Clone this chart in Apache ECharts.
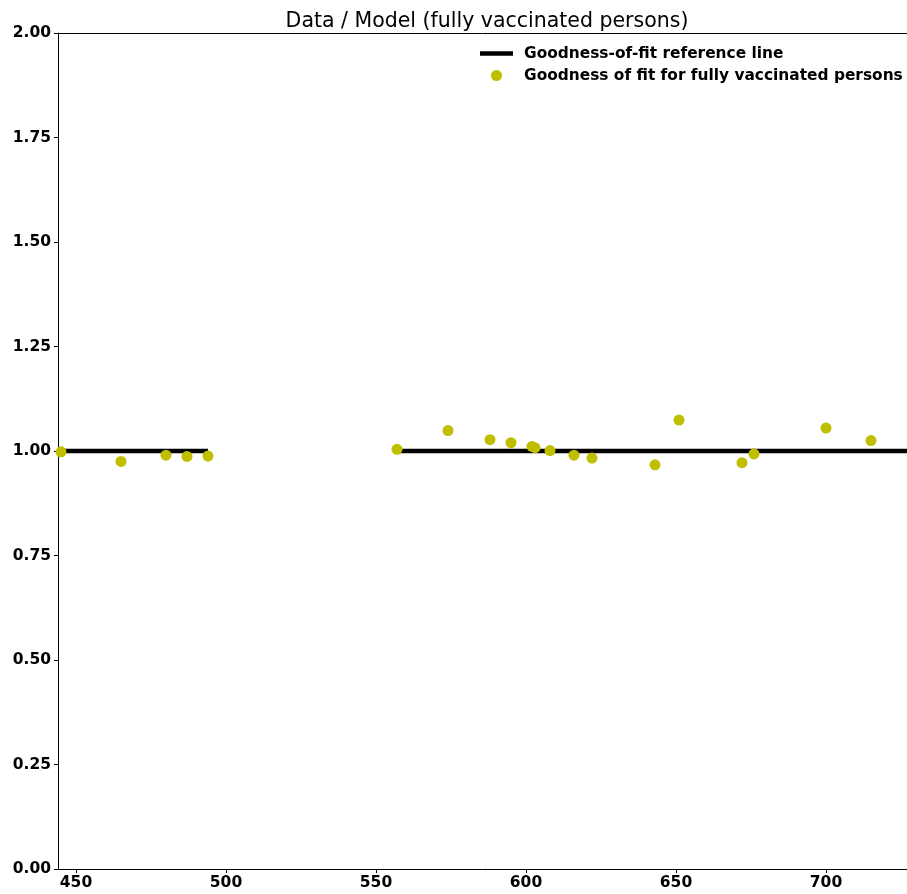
<!DOCTYPE html>
<html>
<head>
<meta charset="utf-8">
<script src="https://cdn.jsdelivr.net/npm/echarts@6/dist/echarts.min.js"></script>
<style>
  html, body { margin: 0; padding: 0; background: #fff; }
  #chart { width: 907px; height: 894px; }
</style>
</head>
<body>
<div id="chart"></div>
<script>
// Day index of each observation and its data/model ratio
const days = [445, 465, 480, 487, 494, 557, 574, 588, 595, 602, 603, 608, 616, 622, 643, 651, 672, 676, 700, 715];
const ratios = [0.998, 0.975, 0.990, 0.987, 0.988, 1.004, 1.049, 1.027, 1.020, 1.011, 1.008, 1.001, 0.990, 0.983, 0.967, 1.074, 0.972, 0.993, 1.055, 1.025];

// Reference line segments (value 1 = perfect fit); null splits the gap
const refX = [445, 494, null, 557, 740];
const refY = [1, 1, null, 1, 1];

const xTicks = [450, 500, 550, 600, 650, 700];
const yTicks = [0, 0.25, 0.5, 0.75, 1.0, 1.25, 1.5, 1.75, 2.0];

const FONT = 'DejaVu Sans';

const chart = echarts.init(document.getElementById('chart'), null, { renderer: 'canvas' });

const scatterData = days.map((d, i) => [d, ratios[i]]);
const refData = refX.map((x, i) => (x === null ? ['-', '-'] : [x, refY[i]]));

const tickLabel = { fontFamily: FONT, fontSize: 15.5, fontWeight: 'bold', color: '#000' };

chart.setOption({
  animation: false,
  backgroundColor: '#ffffff',
  title: {
    text: 'Data / Model (fully vaccinated persons)',
    left: 482,
    top: 6,
    textAlign: 'center',
    textStyle: { fontFamily: FONT, fontSize: 20.5, fontWeight: 'normal', color: '#000' }
  },
  grid: { left: 58, right: 0, top: 33, bottom: 25, show: false },
  legend: {
    orient: 'vertical',
    left: 475,
    top: 41,
    itemWidth: 33,
    itemHeight: 11,
    itemGap: 7,
    symbolKeepAspect: true,
    textStyle: { fontFamily: FONT, fontSize: 15.4, fontWeight: 'bold', color: '#000', padding: [0, 0, 0, 6] },
    data: [
      { name: 'Goodness-of-fit reference line', icon: 'path://M0,0L33,0L33,4.5L0,4.5Z', itemStyle: { color: '#000' } },
      { name: 'Goodness of fit for fully vaccinated persons', icon: 'circle', itemStyle: { color: '#bfbf00' } }
    ]
  },
  xAxis: [
    {
      type: 'value',
      min: 444,
      max: 727,
      splitLine: { show: false },
      axisLine: { show: true, lineStyle: { color: '#000', width: 1 } },
      axisTick: { show: true, length: 4, inside: false, lineStyle: { color: '#000' }, customValues: xTicks },
      axisLabel: Object.assign({ customValues: xTicks, margin: 6 }, tickLabel)
    },
    {
      // top spine only
      type: 'value',
      position: 'top',
      min: 444,
      max: 727,
      splitLine: { show: false },
      axisLine: { show: true, lineStyle: { color: '#000', width: 1 } },
      axisTick: { show: false },
      axisLabel: { show: false }
    }
  ],
  yAxis: {
    type: 'value',
    min: 0,
    max: 2,
    interval: 0.25,
    splitLine: { show: false },
    axisLine: { show: true, lineStyle: { color: '#000', width: 1 } },
    axisTick: { show: true, length: 4, inside: false, lineStyle: { color: '#000' } },
    axisLabel: Object.assign({ margin: 7, formatter: v => v.toFixed(2) }, tickLabel)
  },
  series: [
    {
      name: 'Goodness-of-fit reference line',
      type: 'line',
      data: refData,
      showSymbol: false,
      connectNulls: false,
      lineStyle: { color: '#000', width: 4.5 },
      itemStyle: { color: '#000' },
      clip: true,
      z: 2
    },
    {
      name: 'Goodness of fit for fully vaccinated persons',
      type: 'scatter',
      data: scatterData,
      symbol: 'circle',
      symbolSize: 11,
      itemStyle: { color: '#bfbf00', opacity: 1 },
      clip: false,
      z: 3
    }
  ]
});
</script>
</body>
</html>
